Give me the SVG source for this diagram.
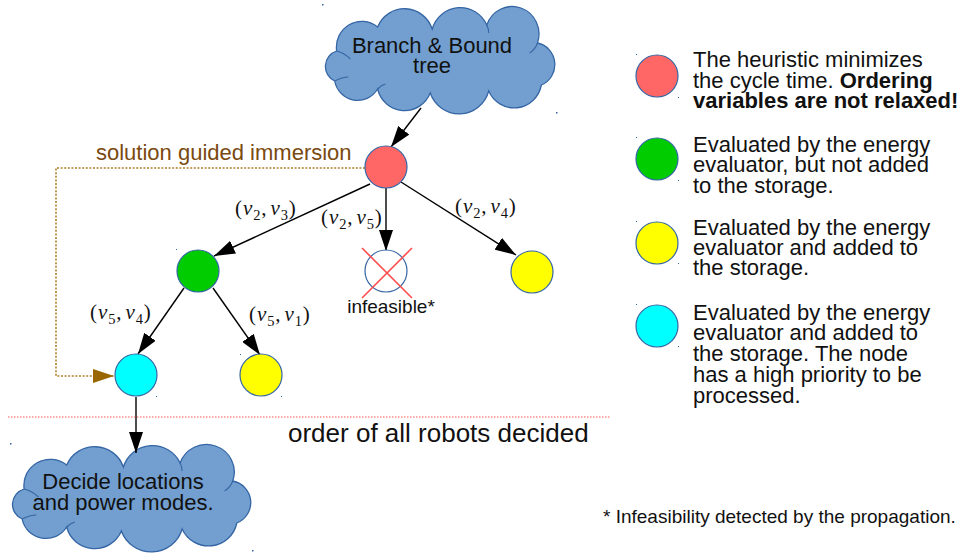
<svg xmlns="http://www.w3.org/2000/svg" width="963" height="553" viewBox="0 0 963 553">
  <style>
    .txt { font-family: "Liberation Sans", Arial, sans-serif; fill: #111; }
    .lg { font-family: "Liberation Sans", Arial, sans-serif; font-size: 22px; fill: #111; }
    .b { font-weight: bold; }
    .m { font-family: "Liberation Serif", "Times New Roman", serif; font-size: 21px; letter-spacing: 0.9px; fill: #111; }
    .i { font-style: italic; }
    .s { font-size: 14.5px; }
    .node { stroke: #3465a4; stroke-width: 1.2; }
    .cloud { fill: #729fcf; stroke: #3465a4; stroke-width: 1.3; }
    .crease { fill: none; stroke: #3465a4; stroke-width: 1.1; }
    .edge { stroke: #000; stroke-width: 1.4; fill: none; marker-end: url(#arrow); }
    .handle { fill: #3465a4; }
  </style>
  <defs>
    <marker id="arrow" markerUnits="userSpaceOnUse" markerWidth="21" markerHeight="14" refX="21" refY="7" orient="auto">
      <path d="M0,0 L21,7 L0,14 Z" fill="#000"/>
    </marker>
    <marker id="arrowBrown" markerUnits="userSpaceOnUse" markerWidth="21" markerHeight="14" refX="21" refY="7" orient="auto">
      <path d="M0,0 L21,7 L0,14 Z" fill="#996600"/>
    </marker>
    <!-- cloud outline in a 240x108 box -->
    <path id="cloudShape" d="M14,46 A26,26 0 0 1 56,22 A30,30 0 0 1 112,24 A30,30 0 0 1 168,20 A27,27 0 0 1 220,38 A22,22 0 0 1 224,80 A28.5,28.5 0 0 1 170,86 A31.5,31.5 0 0 1 110,88 A28.5,28.5 0 0 1 56,84 A24,24 0 0 1 12,76 A16,16 0 0 1 14,46 Z"/>
    <!-- small inner folds at some of the notches -->
    <path id="cloudFolds" d="M14,46 Q22,48 28,54 M12,76 Q20,72 26,72 M220,38 Q218,44 212,48 M56,84 Q60,80 64,79 M168,20 Q170,24 170,28"/>
  </defs>

  <rect width="963" height="553" fill="#fff"/>

  <!-- clouds -->
  <g id="bbTree">
    <g transform="translate(323,5) scale(0.975,1)">
      <use href="#cloudShape" class="cloud" style="vector-effect:non-scaling-stroke"/>
      <use href="#cloudFolds" class="crease" style="vector-effect:non-scaling-stroke"/>
    </g>
    <text class="txt" font-size="22" text-anchor="middle" x="432" y="53">Branch &amp; Bound</text>
    <text class="txt" font-size="22" text-anchor="middle" x="432" y="73">tree</text>
  </g>
  <g id="decide">
    <g transform="translate(10,443) scale(1.0125,1)">
      <use href="#cloudShape" class="cloud" style="vector-effect:non-scaling-stroke"/>
      <use href="#cloudFolds" class="crease" style="vector-effect:non-scaling-stroke"/>
    </g>
    <text class="txt" font-size="22" text-anchor="middle" x="123" y="489">Decide locations</text>
    <text class="txt" font-size="22" text-anchor="middle" x="123" y="510">and power modes.</text>
  </g>

  <!-- connectors -->
  <g id="connectors">
    <path class="edge" d="M421,108 L391,147"/>
    <path class="edge" d="M370,184 L214,256"/>
    <path class="edge" d="M386,188 L386,251"/>
    <path class="edge" d="M401,182 L516,255"/>
    <path class="edge" d="M184,288 L138,354"/>
    <path class="edge" d="M213,288 L260,355"/>
    <path class="edge" d="M136,397 L136,453"/>
    <path d="M365,168 L56,168 L56,376 L114,376" fill="none" stroke="#b0802a" stroke-width="1.6" stroke-dasharray="2,1.6" marker-end="url(#arrowBrown)"/>
  </g>

  <text class="txt" font-size="22" x="96" y="160" style="fill:#7a4a10">solution guided immersion</text>

  <!-- edge labels -->
  <g id="edgeLabels">
    <text class="m" x="235" y="215">(<tspan class="i">v</tspan><tspan class="s" dy="4.5">2</tspan><tspan dy="-4.5">,</tspan><tspan class="i" dx="3">v</tspan><tspan class="s" dy="4.5">3</tspan><tspan dy="-4.5">)</tspan></text>
    <text class="m" x="321" y="224">(<tspan class="i">v</tspan><tspan class="s" dy="4.5">2</tspan><tspan dy="-4.5">,</tspan><tspan class="i" dx="3">v</tspan><tspan class="s" dy="4.5">5</tspan><tspan dy="-4.5">)</tspan></text>
    <text class="m" x="455" y="213">(<tspan class="i">v</tspan><tspan class="s" dy="4.5">2</tspan><tspan dy="-4.5">,</tspan><tspan class="i" dx="3">v</tspan><tspan class="s" dy="4.5">4</tspan><tspan dy="-4.5">)</tspan></text>
    <text class="m" x="90" y="319">(<tspan class="i">v</tspan><tspan class="s" dy="4.5">5</tspan><tspan dy="-4.5">,</tspan><tspan class="i" dx="3">v</tspan><tspan class="s" dy="4.5">4</tspan><tspan dy="-4.5">)</tspan></text>
    <text class="m" x="249" y="321">(<tspan class="i">v</tspan><tspan class="s" dy="4.5">5</tspan><tspan dy="-4.5">,</tspan><tspan class="i" dx="3">v</tspan><tspan class="s" dy="4.5">1</tspan><tspan dy="-4.5">)</tspan></text>
  </g>

  <!-- tree nodes -->
  <g id="root"><circle class="node" cx="386" cy="167" r="21" fill="#ff6666"/></g>
  <g id="nodeGreen"><circle class="node" cx="198" cy="271" r="21" fill="#00cc00"/></g>
  <g id="nodeInfeasible">
    <circle class="node" cx="386" cy="271" r="21" fill="#fff"/>
    <path d="M362,248 L412,298 M412,248 L362,298" stroke="#ff4d4d" stroke-width="1.6"/>
    <text class="txt" font-size="19" text-anchor="middle" x="391" y="313">infeasible*</text>
  </g>
  <g id="nodeYellowRight"><circle class="node" cx="532" cy="272" r="21" fill="#ffff00"/></g>
  <g id="nodeCyan"><circle class="node" cx="136" cy="375" r="21" fill="#00ffff"/></g>
  <g id="nodeYellowLeft"><circle class="node" cx="261" cy="375" r="21" fill="#ffff00"/></g>

  <!-- selection handles -->
  <g class="handle">
    <rect x="322" y="4" width="1.5" height="1.5"/>
    <rect x="556" y="112" width="1.5" height="1.5"/>
    <rect x="10" y="443" width="1.5" height="1.5"/>
    <rect x="252" y="550" width="1.5" height="1.5"/>
    <rect x="176" y="249" width="1" height="1"/>
    <rect x="156" y="396" width="1" height="1"/>
    <rect x="240" y="354" width="1" height="1"/>
    <rect x="281" y="396" width="1" height="1"/>
    <rect x="636" y="54" width="1" height="1"/>
    <rect x="678" y="97" width="1" height="1"/>
    <rect x="636" y="137" width="1" height="1"/>
    <rect x="678" y="180" width="1" height="1"/>
    <rect x="636" y="221" width="1" height="1"/>
    <rect x="678" y="263" width="1" height="1"/>
    <rect x="636" y="304" width="1" height="1"/>
    <rect x="678" y="346" width="1" height="1"/>
  </g>

  <!-- separator -->
  <line x1="8" y1="417" x2="610" y2="417" stroke="#ff5555" stroke-width="1.2" stroke-dasharray="1.5,1.5"/>
  <text class="txt" font-size="26" x="288" y="442">order of all robots decided</text>

  <!-- legend -->
  <g id="legendRed">
    <circle class="node" cx="657" cy="76" r="21" fill="#ff6666"/>
    <text class="lg" x="693" y="67">The heuristic minimizes</text>
    <text class="lg" x="693" y="88">the cycle time. <tspan class="b">Ordering</tspan></text>
    <text class="lg b" x="693" y="108">variables are not relaxed!</text>
  </g>
  <g id="legendGreen">
    <circle class="node" cx="657" cy="159" r="21" fill="#00cc00"/>
    <text class="lg" x="693" y="152">Evaluated by the energy</text>
    <text class="lg" x="693" y="172">evaluator, but not added</text>
    <text class="lg" x="693" y="193">to the storage.</text>
  </g>
  <g id="legendYellow">
    <circle class="node" cx="657" cy="243" r="21" fill="#ffff00"/>
    <text class="lg" x="693" y="235">Evaluated by the energy</text>
    <text class="lg" x="693" y="255">evaluator and added to</text>
    <text class="lg" x="693" y="275">the storage.</text>
  </g>
  <g id="legendCyan">
    <circle class="node" cx="657" cy="326" r="21" fill="#00ffff"/>
    <text class="lg" x="693" y="320">Evaluated by the energy</text>
    <text class="lg" x="693" y="340">evaluator and added to</text>
    <text class="lg" x="693" y="361">the storage. The node</text>
    <text class="lg" x="693" y="382">has a high priority to be</text>
    <text class="lg" x="693" y="403">processed.</text>
  </g>

  <text class="txt" font-size="19" x="603" y="523">* Infeasibility detected by the propagation.</text>
</svg>
